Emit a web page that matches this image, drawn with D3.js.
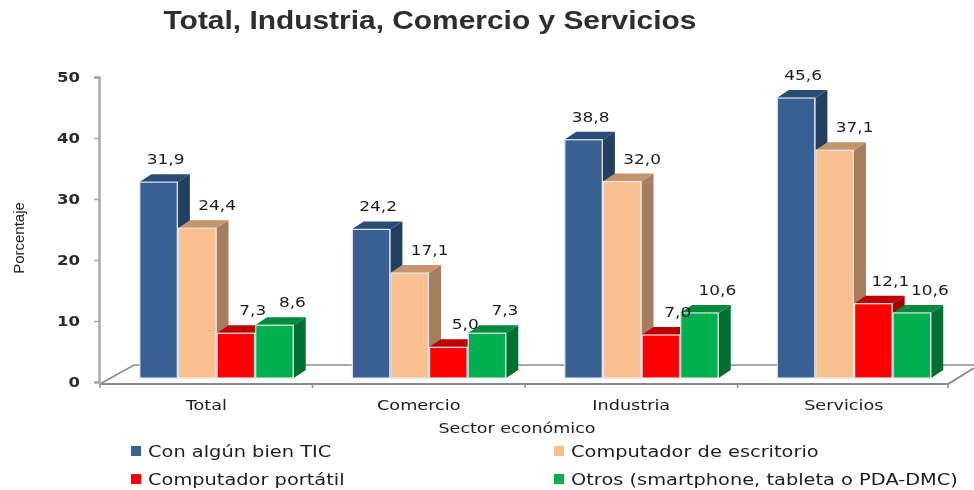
<!DOCTYPE html>
<html><head><meta charset="utf-8">
<script src="https://cdn.jsdelivr.net/npm/d3@7"></script>
<style>html,body{margin:0;background:#fff}svg{display:block}text{fill:#1c1c24;font-family:"DejaVu Sans",sans-serif}</style>
</head><body><div id="c"></div>
<script>
const categories=["Total","Comercio","Industria","Servicios"];
const seriesNames=["Con algún bien TIC","Computador de escritorio","Computador portátil","Otros (smartphone, tableta o PDA-DMC)"];
const conTIC=[31.9,24.2,38.8,45.6];
const escritorio=[24.4,17.1,32.0,37.1];
const portatil=[7.3,5.0,7.0,12.1];
const otros=[8.6,7.3,10.6,10.6];
const allSeries=[conTIC,escritorio,portatil,otros];
const front=["#376092","#FAC090","#FF0000","#00B050"];
const side=["#22405F","#A67E5E","#A80000","#007030"];
const topc=["#2B4C74","#C4946C","#C00000","#008A3C"];
const yTicks=[0,10,20,30,40,50];
const labelDx=[-3,10,7,8];
const labelDy=[10,10,10,10];
const W=974,H=490,dx=12,dy=8;
const svg=d3.select("#c").append("svg").attr("width",W).attr("height",H);
const defs=svg.append("defs");
defs.append("filter").attr("id","soft").append("feGaussianBlur").attr("stdDeviation",0.45);
defs.append("filter").attr("id","soft2").attr("x","-5%").attr("y","-20%").attr("width","110%").attr("height","140%").append("feGaussianBlur").attr("stdDeviation",0.7);
const root=svg.append("g").attr("filter","url(#soft)");
function stretch(sel,f){sel.each(function(){const l=this.getComputedTextLength();d3.select(this).attr("textLength",l*f).attr("lengthAdjust","spacingAndGlyphs");});return sel;}

const x=d3.scaleBand().domain(categories).range([100,950]);
const y=d3.scaleLinear().domain([0,50]).range([382,77]);
const h=d3.scaleLinear().domain([0,50]).range([378,71]);
const barX=d3.scaleBand().domain(d3.range(4)).range([0,154.5]);

const grey="#8c8c8c", axisGrey="#a6a6a6", fy=y(0)+2;
root.append("path").attr("fill","none").attr("stroke",grey).attr("stroke-width",1.6)
 .attr("d",`M${x.range()[0]},${fy}L134,365L974,365`);
root.append("path").attr("fill","none").attr("stroke",grey).attr("stroke-width",2)
 .attr("d",`M${x.range()[0]},${fy}L948,${fy}L974,368`);
const ya=root.append("g").attr("transform",`translate(99,0)`)
 .call(d3.axisLeft(y).tickValues(yTicks).tickSize(5).tickPadding(14));
ya.selectAll("path,line").attr("stroke",axisGrey).attr("stroke-width",2.4);
ya.selectAll("line").attr("stroke-width",1.5);
ya.selectAll("text").attr("font-size",14).attr("font-weight","bold").style("fill","#2b2b33").style("font-family",'"DejaVu Sans",sans-serif').call(stretch,1.18);
const xa=root.append("g").attr("transform",`translate(0,${fy})`)
 .call(d3.axisBottom(x).tickSize(0).tickPadding(16));
xa.select("path").remove();
xa.selectAll("text").attr("font-size",14).style("font-family",'"DejaVu Sans",sans-serif').call(stretch,1.26);
xa.selectAll(".boundary").data(d3.range(5)).enter().append("line")
 .attr("x1",i=>x.range()[0]+i*x.step()-(i===4?2:0)).attr("x2",i=>x.range()[0]+i*x.step()-(i===4?2:0))
 .attr("y1",0).attr("y2",4).attr("stroke",grey).attr("stroke-width",1.5);

const bars=root.append("g");
categories.forEach((c,ci)=>{
  const gx=x(c)+x.bandwidth()/2-67;
  allSeries.forEach((s,si)=>{
    const v=s[ci],bx=gx+barX(si),bw=barX.bandwidth(),t=h(v),b=h(0);
    const g=bars.append("g");
    g.append("path").attr("fill",side[si]).attr("d",`M${bx+bw},${t}l${dx},${-dy}L${bx+bw+dx},${b-dy}L${bx+bw},${b}Z`);
    g.append("path").attr("fill",topc[si]).attr("d",`M${bx},${t}l${dx},${-dy}h${bw}l${-dx},${dy}Z`);
    g.append("rect").attr("x",bx+.6).attr("y",t).attr("width",bw-1.2).attr("height",b-t)
      .attr("fill",front[si]).attr("stroke","#dfe6ee").attr("stroke-width",1.2);
  });
  allSeries.forEach((s,si)=>{
    const v=s[ci],bx=gx+barX(si),bw=barX.bandwidth();
    root.append("text").attr("x",bx+bw/2+10+labelDx[si]).attr("y",h(v)-dy-labelDy[si])
      .attr("text-anchor","middle").attr("font-size",14.5)
      .text(d3.format(".1f")(v).replace(".",",")).call(stretch,1.17);
  });
});

svg.append("text").attr("x",430).attr("y",28.5).attr("text-anchor","middle").attr("filter","url(#soft2)")
 .attr("font-size",26).attr("font-weight","bold").style("fill","#2e2e2e").style("font-family",'"Liberation Sans",sans-serif').text("Total, Industria, Comercio y Servicios").call(stretch,1.15);
root.append("text").attr("x",517).attr("y",432.5).attr("text-anchor","middle").attr("font-size",14).text("Sector económico").call(stretch,1.25);
root.append("text").attr("transform","translate(24,238) rotate(-90)").attr("text-anchor","middle").attr("font-size",15).style("font-family",'"Liberation Sans",sans-serif').text("Porcentaje");

const lx=[131,554,131,554],ly=[452,452,480,480];
seriesNames.forEach((n,i)=>{
  root.append("rect").attr("x",lx[i]).attr("y",ly[i]-6).attr("width",10).attr("height",10).attr("fill",front[i]);
  root.append("text").attr("x",lx[i]+17).attr("y",ly[i]+5).attr("font-size",15.5).text(n).call(stretch,1.25);
});
</script></body></html>
